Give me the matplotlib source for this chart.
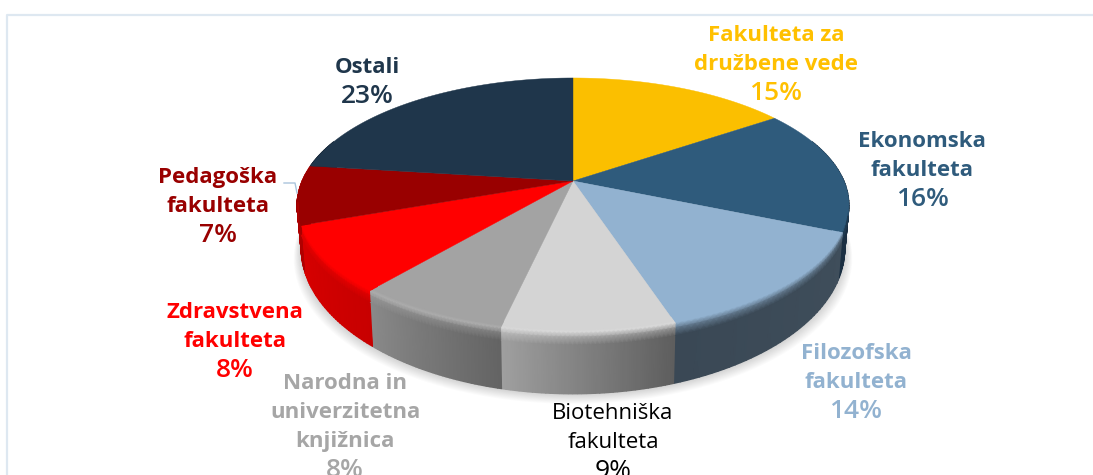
import numpy as np
import matplotlib
matplotlib.use("Agg")
import matplotlib.pyplot as plt
from matplotlib.colors import to_rgb
from matplotlib.patches import Polygon

names = ["Fakulteta za\ndružbene vede", "Ekonomska\nfakulteta", "Filozofska\nfakulteta",
         "Biotehniška\nfakulteta", "Narodna in\nuniverzitetna\nknjižnica",
         "Zdravstvena\nfakulteta", "Pedagoška\nfakulteta", "Ostali"]
percent_labels = [15, 16, 14, 9, 8, 8, 7, 23]
# slice sizes as measured on the picture, they differ a bit from the rounded labels
shares = [15.4, 16.0, 13.6, 8.5, 7.6, 8.4, 7.5, 23.0]
face_colors = ["#FBBF00", "#2F5B7C", "#92B2D0", "#D4D4D4", "#A3A3A3", "#FF0000", "#990000", "#1F364B"]
side_left = ["#B08500", "#1B2F42", "#3A4855", "#A0A0A0", "#8A8A8A", "#D80000", "#B00000", "#15202C"]
side_right = ["#B08500", "#1B2F42", "#3F4E5B", "#5E5E5E", "#646464", "#C80000", "#B00000", "#15202C"]
text_colors = ["#FFC000", "#2F5B7C", "#92B2D0", "#000000", "#A6A6A6", "#FF0000", "#990000", "#1F364B"]
label_x = [776, 922, 856, 613, 345, 235, 218, 367]
label_y = [33, 139, 351, 411, 381, 310, 175, 65]
line_step = 29

# pie geometry in pixels
cx, cy = 573, 181
a, b, p = 271, 122.5, 0.189
depth = 40.7


def project(theta, t=0.0, r=1.0):
    # theta in degrees clockwise from the top, t is how far down the side (0..1)
    u = r * np.sin(np.radians(theta))
    v = r * np.cos(np.radians(theta))
    w = 1 + p * v
    x = cx + a * u / w * (1 - 0.015 * t)
    y = cy - b * v / w + t * depth / w ** 2
    return x, y


def mix(c1, c2, f):
    return np.array(to_rgb(c1)) * (1 - f) + np.array(to_rgb(c2)) * f


fig = plt.figure(figsize=(10.93, 4.75), dpi=100)
ax = fig.add_axes([0, 0, 1, 1])
ax.set_xlim(0, 1093)
ax.set_ylim(475, 0)
ax.axis("off")
plt.rcParams["font.family"] = ["Open Sans", "DejaVu Sans"]

# frame of the slide
ax.plot([1093, 7, 7], [14.5, 14.5, 475], color="#DEE8F1", lw=1.6)

edges = np.concatenate([[0], np.cumsum(shares)]) / sum(shares) * 360

# soft shadow under the pie
ring = np.linspace(0, 360, 200)
for k in range(12):
    sx, sy = project(ring, 1.0)
    sx = cx + (sx - cx) * (1.0 + 0.0025 * k)
    sy = sy + 0.9 * k
    ax.add_patch(Polygon(np.column_stack([sx, sy]), fc="#000000", ec="none", alpha=0.014, zorder=1))

# outer wall of each slice
for i in range(len(shares)):
    t0 = max(edges[i], 70)
    t1 = min(edges[i + 1], 290)
    if t1 <= t0:
        continue
    th = np.linspace(t0, t1, 40)
    X = np.array([project(th, t)[0] for t in (0.0, 1.0)])
    Y = np.array([project(th, t)[1] for t in (0.0, 1.0)])
    C = np.zeros((2, len(th), 3))
    for j in range(len(th)):
        # the wall runs right to left as theta grows
        f = (th[j] - t0) / (t1 - t0)
        C[:, j] = mix(side_right[i], side_left[i], f)
    ax.pcolormesh(X, Y, C, shading="gouraud", zorder=2)

# top faces
for i in range(len(shares)):
    th = np.linspace(edges[i], edges[i + 1], 60)
    x, y = project(th)
    pts = np.vstack([[cx, cy], np.column_stack([x, y])])
    ax.add_patch(Polygon(pts, fc=face_colors[i], ec=face_colors[i], lw=0.3, zorder=3))

# rounded rim between face and wall on the front slices
for i in range(len(shares)):
    t0 = max(edges[i], 104)
    t1 = min(edges[i + 1], 262)
    if t1 <= t0:
        continue
    th = np.linspace(t0, t1, 40)
    offs = np.array([-0.035, -0.012, 0.0, 0.08, 0.2])
    X, Y = [], []
    for o in offs:
        if o < 0:
            xx, yy = project(th, 0.0, 1 + o)
        else:
            xx, yy = project(th, o)
        X.append(xx)
        Y.append(yy)
    X, Y = np.array(X), np.array(Y)
    C = np.zeros((len(offs), len(th), 3))
    for j in range(len(th)):
        f = (th[j] - t0) / (t1 - t0)
        wall = mix(side_right[i], side_left[i], f)
        C[0, j] = to_rgb(face_colors[i])
        C[1, j] = to_rgb(face_colors[i])
        C[2, j] = mix(face_colors[i], "#FFFFFF", 0.12) if i in (3, 4) else to_rgb(face_colors[i])
        C[3, j] = mix(face_colors[i], wall, 0.55)
        C[4, j] = wall
    ax.pcolormesh(X, Y, C, shading="gouraud", zorder=4)

# leader line of the Pedagoska label
ax.plot([284, 295, 297], [183, 183, 193], color="#A9C4DC", lw=1.0, zorder=5)

for i in range(len(names)):
    weight = "normal" if i == 3 else "bold"
    lines = names[i].split("\n")
    for k in range(len(lines)):
        ax.text(label_x[i], label_y[i] + k * line_step + 8, lines[k], color=text_colors[i],
                ha="center", va="baseline", fontsize=16, fontweight=weight, zorder=6)
    ax.text(label_x[i], label_y[i] + len(lines) * line_step + 9, str(percent_labels[i]) + "%",
            color=text_colors[i], ha="center", va="baseline", fontsize=19,
            fontweight="normal" if i == 3 else "semibold", zorder=6)

fig.savefig("out.png", dpi=100)
